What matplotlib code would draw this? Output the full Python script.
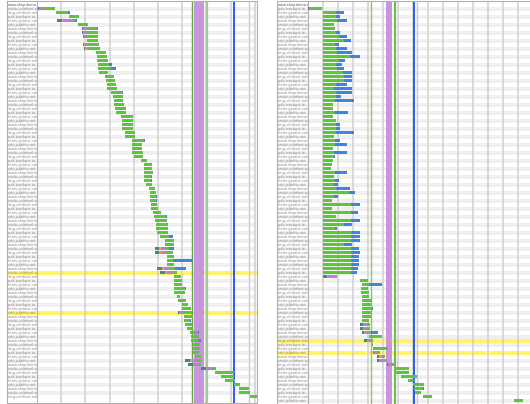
import matplotlib.pyplot as plt

W, H = 530, 404

# ---- left waterfall (time in seconds, one gridline per second), rows 1..98
left_start = [0.03, 0.79, 1.32, 0.81, 1.68, 1.87, 1.87, 1.90, 2.05, 1.91,
              1.95, 2.44, 2.48, 2.49, 2.51, 2.52, 2.56, 2.81, 2.85, 2.88,
              2.89, 3.06, 3.15, 3.18, 3.20, 3.22, 3.26, 3.47, 3.50, 3.51,
              3.52, 3.64, 3.65, 3.93, 3.93, 3.94, 3.94, 4.01, 4.30, 4.42,
              4.42, 4.43, 4.42, 4.42, 4.50, 4.63, 4.67, 4.67, 4.68, 4.71,
              4.72, 4.81, 4.83, 4.86, 4.90, 4.92, 4.94, 5.08, 5.28, 5.29,
              4.88, 4.88, 5.36, 5.36, 5.37, 4.95, 5.08, 5.66, 5.66, 5.66,
              5.66, 5.66, 5.77, 5.84, 5.98, 6.00, 5.84, 6.07, 6.07, 6.12,
              6.19, 6.32, 6.35, 6.36, 6.43, 6.46, 6.46, 6.53, 6.12, 6.25,
              6.78, 7.36, 7.60, 7.77, 8.15, 8.35, 8.35, 8.80]
left_ttfb = [.51, .51, .41, .08, .41, .41, .43, .50, .48, .48,
             .44, .41, .40, .43, .48, .54, .36, .36, .37, .38,
             .40, .44, .39, .39, .40, .45, .41, .48, .45, .47,
             .45, .41, .40, .50, .40, .40, .43, .39, .26, .32,
             .34, .35, .29, .29, .25, .25, .24, .24, .24, .26,
             .26, .32, .48, .52, .51, .50, .47, .38, .37, .36,
             .15, .31, .30, .28, .28, .21, .17, .28, .32, .35,
             .45, .45, .14, .31, .27, .35, .35, .39, .25, .28,
             .27, .34, .36, .33, .30, .28, .24, .25, .21, .11,
             .17, .79, .54, .41, .24, .41, .45, .28]
left_download = [0, .07, 0, .06, 0, .03, 0, 0, 0, 0,
                 0, 0, 0, 0, .10, .21, 0, 0, 0, 0,
                 0, .05, 0, 0, 0, 0, 0, .03, 0, 0,
                 0, 0, 0, .04, 0, 0, 0, 0, 0, 0,
                 0, 0, .03, .03, 0, 0, 0, .03, .03, 0,
                 0, 0, .08, 0, 0, 0, 0, .18, 0, 0,
                 .19, 0, 0, .80, 0, .44, 0, 0, 0, 0,
                 .03, 0, 0, 0, 0, 0, 0, 0, .04, 0,
                 0, .03, 0, .07, 0, 0, 0, 0, 0, 0,
                 0, 0, 0, 0, 0, 0, 0, 0]
left_conn_rows = [1, 4, 6, 7, 8, 10, 11, 61, 62, 66, 67, 77, 89, 90, 91]
left_dns = [.07, .21, .04, .04, .04, .04, .05, .18, .18, .21, .21, .04, .21, .21, .21]
left_connect = [0, .07, 0, 0, 0, .05, .05, .07, .07, .07, .07, 0, .07, 0, 0]
left_ssl = [.14, .41, .17, .17, .10, .07, .11, .19, .19, .28, .27, .17, .21, .21, .23]
left_yellow = [67, 77]

# ---- right waterfall, rows 1..99
right_start = [0.00, 1.04, 1.04, 1.04, 1.04, 1.04, 1.04, 1.04, 1.04, 1.04,
               1.04, 1.04, 1.04, 1.04, 1.04, 1.04, 1.04, 1.04, 1.04, 1.04,
               1.04, 1.04, 1.04, 1.04, 1.04, 1.04, 1.04, 1.04, 1.04, 1.04,
               1.04, 1.04, 1.04, 1.04, 1.04, 1.04, 1.04, 1.04, 1.04, 1.04,
               1.04, 1.04, 1.04, 1.04, 1.04, 1.04, 1.04, 1.04, 1.04, 1.04,
               1.04, 1.04, 1.04, 1.04, 1.04, 1.04, 1.04, 1.04, 1.04, 1.04,
               1.04, 1.04, 1.04, 1.04, 1.04, 1.04, 1.04, 1.00, 3.49, 3.60,
               3.55, 3.55, 3.60, 3.64, 3.64, 3.64, 3.64, 3.64, 3.64, 3.49,
               3.49, 3.64, 4.09, 3.78, 4.27, 4.33, 4.33, 4.60, 4.60, 5.27,
               5.82, 5.82, 6.20, 6.71, 7.04, 7.11, 7.16, 7.71, 13.78]
right_ttfb = [.77, .85, .85, .94, .71, .76, .85, 1.07, 1.38, .78,
              .85, .94, 1.78, 1.07, .85, .94, 1.34, 1.38, 1.38, .85,
              .71, .85, .85, .78, .67, .62, .80, .62, .85, .85,
              .85, .85, .71, .78, .78, .62, .71, .71, .62, .56,
              .49, .78, .71, .78, .71, .85, 1.74, .71, .56, 1.82,
              .56, 1.82, .85, 1.82, 1.38, .78, 1.82, 1.82, 1.82, 1.38,
              1.82, 1.85, 1.85, 1.85, 1.85, 1.85, 1.85, .11, .51, .49,
              .45, .52, .49, .63, .58, .63, .56, .56, .47, .23,
              .27, .13, .84, .06, .07, 1.05, .22, .11, .05, .18,
              .94, .94, 1.11, .33, .71, .60, .38, .55, .55]
right_download = [0, .53, .26, .62, 0, .05, .26, .49, .44, .27,
                  .71, 1.00, .67, .38, .37, .44, .55, .51, .51, .71,
                  1.23, 1.09, .31, 1.27, 0, 0, .85, 0, 0, .26,
                  .26, 1.20, 0, .33, .78, 0, .85, .07, 0, 0,
                  0, .78, 0, .29, .29, .93, .37, .29, 0, .63,
                  0, .47, 0, .63, .53, .16, .63, .63, .63, .51,
                  .58, .60, .55, .53, .53, .46, .42, 0, 0, .84,
                  0, 0, 0, 0, 0, .11, 0, 0, 0, 0,
                  0, .45, 0, 0, 0, 0, 0, 0, 0, 0,
                  0, 0, 0, .11, 0, .05, 0, 0, 0]
right_conn_rows = [1, 68, 80, 81, 82, 84, 87, 88, 89, 90]
right_dns = [.09, .27, .22, .22, .11, .15, .09, .18, .18, .11]
right_connect = [0, .10, 0, 0, .07, 0, 0, .11, 0, 0]
right_ssl = [.11, .45, .22, .18, .27, .34, .18, .16, .44, .22]
right_yellow = [84, 87]

# event markers: (time, colour, width)
left_marks = [(6.39, '#62a83c', 1.0), (7.02, '#a6c79c', 1.6),
              (8.14, '#1d4ff5', 1.3), (8.76, '#c6c6f0', 1.0)]
left_band = (6.49, 6.90)
right_marks = [(4.20, '#8cc46a', 1.0), (5.82, '#6cbf44', 1.5),
               (7.11, '#1d4ff5', 1.3), (7.31, '#c6c6f0', 1.0)]
right_band = (5.22, 5.60)

hosts = ["www.shopdemo.com", "static.cdnhost.net", "img.cdnhost.net",
         "ads.trackpix.io", "fonts.gstatic.com", "cdn.jsdelivr.net"]
files = ["main.css", "app.min.js", "logo.png", "pixel.gif", "font.woff",
         "banner.jpg", "vendor.js"]
left_labels = ["www.shopdemo.com/"] + [
    f"{hosts[i % 6]} - {files[(i * 3) % 7]}" for i in range(1, 99)]
right_labels = ["www.shopdemo.com/"] + [
    f"{hosts[(i + 2) % 6]} - {files[(i * 5) % 7]}" for i in range(1, 100)]

C_DNS, C_CONN, C_SSL = '#3d8a8c', '#e9a23f', '#c47ad8'
C_TTFB, C_DL = '#5cc63a', '#3a86e0'
BAR_H = 0.78
PITCH = 4.0


def px_axes(fig, x0, y0, x1, y1):
    return fig.add_axes([x0 / W, 1 - y1 / H, (x1 - x0) / W, (y1 - y0) / H])


def rows_ylim(ax, y0, y1):
    ax.set_ylim((y1 - 4.7) / PITCH, (y0 - 4.7) / PITCH)


def stripes(ax, n_rows, yellow):
    for k in range(n_rows):
        if k % 2 == 1:
            ax.axhspan(k - 0.5, k + 0.5, color='#f0f0f0', lw=0, zorder=0.1)
    for k in yellow:
        ax.axhspan(k - 0.5, k + 0.5, color='#fff36a', lw=0, zorder=0.2)


def panel(fig, x_lab, x0, x1, y0, y1, xmax, labels, yellow, start, ttfb, dl,
          conn_rows, dns, connect, ssl, marks, band, bottom=True):
    n_rows = len(labels)
    lab = px_axes(fig, x_lab, y0, x0, y1)
    ax = px_axes(fig, x0, y0, x1, y1)
    for a in (lab, ax):
        rows_ylim(a, y0, y1)
        a.set_xticks([])
        a.set_yticks([])
        for s in a.spines.values():
            s.set_color('#b0b0b0')
            s.set_linewidth(0.8)
        stripes(a, n_rows, yellow)
    lab.set_xlim(0, 1)
    lab.spines['right'].set_visible(False)
    for k, t in enumerate(labels):
        lab.text(0.03, k, t, fontsize=2.6, color='#888888' if k else '#555555',
                 va='center', ha='left', clip_on=True)

    ax.set_xlim(0, xmax)
    for g in range(1, int(xmax) + 1):
        ax.axvline(g, color='#d0d0d0', lw=1.1, zorder=1)
    ax.axvspan(band[0], band[1], color='#c995dc', lw=0, zorder=1.5)
    for t, c, w in marks:
        ax.axvline(t, color=c, lw=w, zorder=1.6)

    rows = list(range(1, len(start) + 1))
    pre = [0.0] * len(start)
    for r, d, c, s in zip(conn_rows, dns, connect, ssl):
        x = start[r - 1]
        ax.barh(r, d, left=x, height=BAR_H, color=C_DNS, lw=0, zorder=3)
        ax.barh(r, c, left=x + d, height=BAR_H, color=C_CONN, lw=0, zorder=3)
        ax.barh(r, s, left=x + d + c, height=BAR_H, color=C_SSL, lw=0, zorder=3)
        pre[r - 1] = d + c + s
    t0 = [a + b for a, b in zip(start, pre)]
    ax.barh(rows, ttfb, left=t0, height=BAR_H, color=C_TTFB, lw=0, zorder=3)
    ax.barh(rows, dl, left=[a + b for a, b in zip(t0, ttfb)], height=BAR_H,
            color=C_DL, lw=0, zorder=3)
    if not bottom:
        ax.spines['bottom'].set_visible(False)
        lab.spines['bottom'].set_visible(False)
        ax.spines['right'].set_visible(False)
    return ax


fig = plt.figure(figsize=(W / 100, H / 100), dpi=100)
panel(fig, 7.3, 37, 256.5, 1, 402.5, (256.5 - 37) / 24.2, left_labels,
      left_yellow, left_start, left_ttfb, left_download, left_conn_rows,
      left_dns, left_connect, left_ssl, left_marks, left_band)
panel(fig, 277, 307.7, 530, 1, 404, (530 - 307.7) / 15.0, right_labels,
      right_yellow, right_start, right_ttfb, right_download, right_conn_rows,
      right_dns, right_connect, right_ssl, right_marks, right_band,
      bottom=False)

fig.savefig('out.png', dpi=100)
